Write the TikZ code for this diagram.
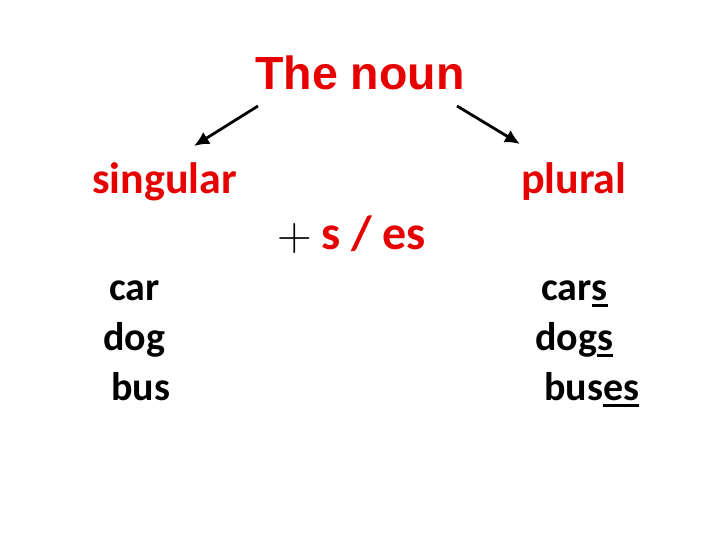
\documentclass[tikz,border=0pt]{standalone}
\usepackage{fontspec}
\setmainfont{Carlito}
\newfontfamily\arialb{Liberation Sans}[BoldFont={* Bold}]
\newfontfamily\lmr{Latin Modern Roman}
\usetikzlibrary{arrows.meta}
\definecolor{nred}{RGB}{230,0,0}
\newlength\ulw
\newcommand\myul[1]{\settowidth\ulw{#1}\rlap{\rule[-7pt]{\ulw}{3pt}}#1}
\begin{document}
\begin{tikzpicture}[x=1pt,y=-1pt,
  word/.style={inner sep=0pt,anchor=base west,font=\fontsize{40}{44}\selectfont\bfseries},
  redword/.style={word,text=nred,font=\fontsize{44}{48}\selectfont\bfseries},
  arr/.style={line width=2.8pt,-{Latex[length=15pt,width=14pt]}}]
\useasboundingbox (0,0) rectangle (720,540);
\fill[white] (0,0) rectangle (720,540);
\node[inner sep=0pt,anchor=base,text=nred,font=\fontsize{46.5}{50}\selectfont\arialb\bfseries] (noun) at (360,90) {The noun};
\node[redword] (sing) at (92,194) {singular};
\node[redword] (plur) at (521,194) {plural};
\node[inner sep=0pt,anchor=base west,font=\fontsize{48}{52}\selectfont\lmr] (plus) at (277,250) {+};
\node[redword,font=\fontsize{48}{52}\selectfont\bfseries] (ses) at (321,249) {s / es};
\node[word] (car) at (109,300) {car};
\node[word] (dog) at (103,350) {dog};
\node[word] (bus) at (111,400) {bus};
\node[word] (cars) at (541,300) {car\myul{s}};
\node[word] (dogs) at (535,350) {dog\myul{s}};
\node[word] (buses) at (544,400) {bus\myul{es}};
\coordinate (l0) at (258,106);
\coordinate (l1) at (194,146);
\coordinate (r0) at (457,106);
\coordinate (r1) at (520,144);
\draw[arr] (l0) -- (l1);
\draw[arr] (r0) -- (r1);
\end{tikzpicture}
\end{document}
